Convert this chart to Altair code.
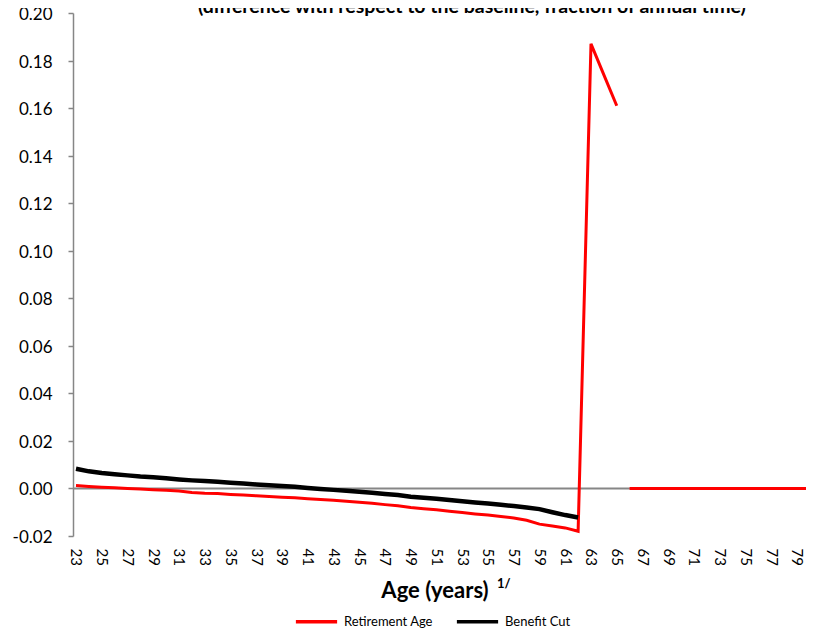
import altair as alt
import pandas as pd

ages = list(range(23, 81))

# Retirement Age (red): ages 23..80
retirement_age = [
    0.0012, 0.0008, 0.0005, 0.0003, 0.0000, -0.0002, -0.0005, -0.0008, -0.0011, -0.0017,
    -0.0020, -0.0021, -0.0025, -0.0028, -0.0031, -0.0034, -0.0037, -0.0039, -0.0043, -0.0046,
    -0.0050, -0.0054, -0.0058, -0.0062, -0.0068, -0.0073, -0.0080, -0.0085, -0.0090, -0.0096,
    -0.0101, -0.0107, -0.0112, -0.0118, -0.0124, -0.0134, -0.0150, -0.0158, -0.0166, -0.0180,
    0.187, 0.174, 0.161,
    0.0, 0.0, 0.0, 0.0, 0.0, 0.0, 0.0, 0.0, 0.0, 0.0, 0.0, 0.0, 0.0, 0.0, 0.0,
]
# segment break between 65 and 66 (gap in the original series)
retirement_seg = [1] * 43 + [2] * 15

# Benefit Cut (black): ages 23..62
benefit_cut = [
    0.0083, 0.0072, 0.0065, 0.0060, 0.0055, 0.0050, 0.0047, 0.0043, 0.0038, 0.0034,
    0.0031, 0.0028, 0.0024, 0.0021, 0.0017, 0.0013, 0.0010, 0.0007, 0.0002, -0.0002,
    -0.0006, -0.0010, -0.0014, -0.0018, -0.0023, -0.0028, -0.0035, -0.0039, -0.0043, -0.0049,
    -0.0054, -0.0059, -0.0063, -0.0069, -0.0074, -0.0080, -0.0087, -0.0100, -0.0112, -0.0122,
]

series_names = ["Retirement Age", "Benefit Cut"]
series_colors = ["#ff0000", "#000000"]

tick_ages = list(range(23, 80, 2))
y_ticks = [round(-0.02 + 0.02 * i, 2) for i in range(12)]

red_df = pd.DataFrame({
    "series": "Retirement Age", "age": ages, "value": retirement_age,
    "seg": [f"R{s}" for s in retirement_seg],
})
black_df = pd.DataFrame({
    "series": "Benefit Cut", "age": ages[:len(benefit_cut)], "value": benefit_cut,
    "seg": "B1",
})

FONT = "Lato"
YDOM = [-0.02, 0.20]
XDOM = [22.767, 79.70]

x_enc = alt.X(
    "age:Q",
    scale=alt.Scale(domain=XDOM, nice=False, zero=False),
    axis=alt.Axis(
        values=tick_ages, labelAngle=90, labelAlign="left", labelBaseline="middle",
        domain=False, ticks=False, grid=False, labelPadding=12, title=None,
        labelFont=FONT, labelFontSize=15, labelColor="#000000", labelFlush=False,
    ),
)
y_enc = alt.Y(
    "value:Q",
    scale=alt.Scale(domain=YDOM, nice=False, zero=False),
    axis=alt.Axis(
        values=y_ticks, format=".2f", grid=False, domainColor="#868686", domainWidth=1.5,
        tickColor="#868686", tickSize=5, tickWidth=1.5, labelPadding=16, title=None,
        labelFont=FONT, labelFontSize=17, labelColor="#000000", labelOffset=1.5,
        labelExpr="replace(datum.label, '\u2212', '-')",
    ),
)

color_enc = alt.Color(
    "series:N",
    scale=alt.Scale(domain=series_names, range=series_colors),
    legend=alt.Legend(
        title=None, orient="none", legendX=221, legendY=586, direction="horizontal",
        symbolType="stroke", symbolSize=1700, symbolStrokeWidth=3.5,
        labelFont=FONT, labelFontSize=13, labelColor="#000000",
        labelOffset=5, columnPadding=16,
    ),
)

zero_rule = alt.Chart(pd.DataFrame({"z": [0.0]})).mark_rule(
    color="#868686", strokeWidth=2
).encode(y=alt.Y("z:Q", scale=alt.Scale(domain=YDOM, nice=False)))

red_line = alt.Chart(red_df).mark_line(clip=True, strokeWidth=3).encode(
    x=x_enc, y=y_enc, color=color_enc, detail="seg:N", order=alt.Order("age:Q"),
)
black_line = alt.Chart(black_df).mark_line(clip=True, strokeWidth=4.5).encode(
    x=x_enc, y=y_enc, color=color_enc, detail="seg:N", order=alt.Order("age:Q"),
)

one = pd.DataFrame({"a": [0]})
title_txt = alt.Chart(one).mark_text(
    text="(difference with respect to the baseline, fraction  of annual  time)",
    font=FONT, fontSize=19.5, fontWeight="bold", align="center", baseline="alphabetic",
    color="#000000",
).encode(x=alt.value(399), y=alt.value(0))

xtitle = alt.Chart(one).mark_text(
    text="Age (years)", font=FONT, fontSize=22, fontWeight="bold", align="center",
    baseline="alphabetic", color="#000000",
).encode(x=alt.value(362), y=alt.value(585))

xsup = alt.Chart(one).mark_text(
    text="1/", font=FONT, fontSize=13, fontWeight="bold", align="left",
    baseline="alphabetic", color="#000000",
).encode(x=alt.value(424), y=alt.value(575))

chart = alt.layer(zero_rule, red_line, black_line, title_txt, xtitle, xsup).properties(
    width=733, height=523,
    autosize=alt.AutoSizeParams(type="none"),
    padding={"left": 65, "top": 5, "right": 0, "bottom": 93},
    background="#ffffff",
).configure_view(stroke=None)

chart.save("out.html", embed_options={"renderer": "svg", "actions": False})
